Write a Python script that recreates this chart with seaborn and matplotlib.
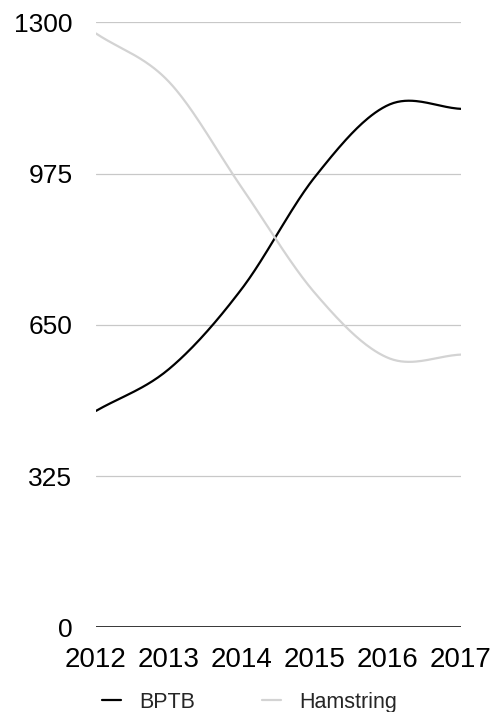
import numpy as np
import pandas as pd
import matplotlib
matplotlib.use("Agg")
import matplotlib.pyplot as plt
import seaborn as sns

years = [2012, 2013, 2014, 2015, 2016, 2017]
bptb = [465, 555, 728, 968, 1122, 1114]
hamstring = [1276, 1172, 944, 718, 579, 586]
y_ticks = [0, 325, 650, 975, 1300]

series_names = ["BPTB", "Hamstring"]
series_colors = {"BPTB": "#000000", "Hamstring": "#d3d3d3"}


def catmull_rom(xs, ys, n=40):
    """Smooth curve through the given points (Catmull-Rom / Hermite)."""
    xs = np.asarray(xs, float)
    ys = np.asarray(ys, float)
    m = np.empty_like(ys)
    m[1:-1] = (ys[2:] - ys[:-2]) / (xs[2:] - xs[:-2])
    m[0] = (ys[1] - ys[0]) / (xs[1] - xs[0])
    m[-1] = (ys[-1] - ys[-2]) / (xs[-1] - xs[-2])
    out_x, out_y = [], []
    for i in range(len(xs) - 1):
        h = xs[i + 1] - xs[i]
        t = np.linspace(0, 1, n, endpoint=(i == len(xs) - 2))
        h00 = 2 * t**3 - 3 * t**2 + 1
        h10 = t**3 - 2 * t**2 + t
        h01 = -2 * t**3 + 3 * t**2
        h11 = t**3 - t**2
        out_x.append(xs[i] + t * h)
        out_y.append(h00 * ys[i] + h10 * h * m[i] + h01 * ys[i + 1] + h11 * h * m[i + 1])
    return np.concatenate(out_x), np.concatenate(out_y)


frames = []
for name, vals in zip(series_names, [bptb, hamstring]):
    sx, sy = catmull_rom(years, vals)
    frames.append(pd.DataFrame({"year": sx, "value": sy, "series": name}))
df = pd.concat(frames, ignore_index=True)

sns.set_theme(style="white")
plt.rcParams["font.family"] = ["Liberation Sans", "DejaVu Sans"]

fig = plt.figure(figsize=(4.99, 7.12), dpi=100)
ax = fig.add_axes([96 / 499, 1 - 627.3 / 712, (461 - 96) / 499, (627.3 - 22.3) / 712])

for yv in y_ticks[1:]:
    ax.axhline(yv, color="#c8c8c8", lw=0.9, zorder=0)
ax.axhline(0, color="#000000", lw=1.1, zorder=1)

sns.lineplot(data=df, x="year", y="value", hue="series", hue_order=series_names,
             palette=series_colors, linewidth=1.6, sort=False, estimator=None,
             ax=ax, legend=False)

ax.set_xlim(years[0], years[-1])
ax.set_ylim(0, 1300)
ax.set_xticks(years)
ax.set_xticklabels([str(y) for y in years])
ax.set_yticks(y_ticks)
ax.set_yticklabels([str(v) for v in y_ticks])
ax.set_xlabel("")
ax.set_ylabel("")
for s in ax.spines.values():
    s.set_visible(False)
ax.tick_params(axis="both", length=0, colors="#000000")
ax.tick_params(axis="y", pad=17, labelsize=19)
ax.tick_params(axis="x", pad=14, labelsize=20)

handles = [plt.Line2D([], [], color=series_colors[n], lw=1.6) for n in series_names]
fig.legend(handles, series_names, loc="center", bbox_to_anchor=(0.5, 1 - 702.5 / 712),
           ncol=2, frameon=False, fontsize=15.5, handlelength=0.9, handletextpad=0.85,
           columnspacing=3.1, borderaxespad=0, borderpad=0)

fig.savefig("out.png", dpi=100)
